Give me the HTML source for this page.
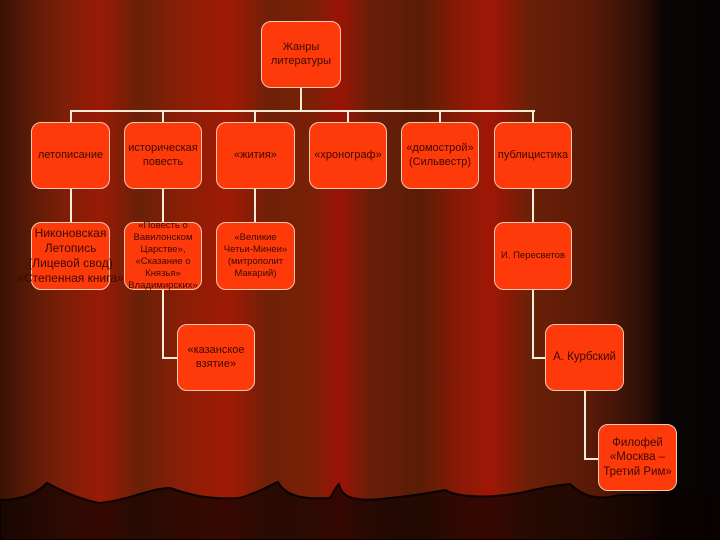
<!DOCTYPE html>
<html><head><meta charset="utf-8"><style>
body{margin:0;width:720px;height:540px;overflow:hidden;background:#000}
#bg{position:absolute;left:0;top:0;width:720px;height:540px;
background:linear-gradient(90deg,#3a1205 0px,#5a1a06 30px,#7a1e08 60px,#9a1a06 100px,#6a2008 140px,#8a1e06 180px,#a01a05 230px,#6e2008 270px,#7a2006 310px,#9a1406 340px,#6a1e08 370px,#5a1c06 420px,#8a1a06 460px,#a01606 490px,#6a2008 530px,#5a1a08 590px,#301008 640px,#0a0404 665px,#050303 720px)}
.box{position:absolute;background:#ff3a0a;border:1.5px solid #f7c8b0;border-radius:10px;box-sizing:border-box;display:flex;align-items:center;justify-content:center;text-align:center;font-family:"Liberation Sans",sans-serif;font-size:11px;color:#3a0a00;line-height:1.25}
.l{position:absolute;background:#f4ecd8}
</style></head><body>
<div id="bg"></div>
<svg style="position:absolute;left:0;top:0" width="720" height="540">
<path d="M0,500 C20,500 35,495 47,483 C60,490 80,500 100,503 C130,500 150,488 170,488 C190,495 210,500 240,498 C260,492 270,485 278,482 C285,495 300,500 330,498 C335,490 337,485 339,484 C342,500 360,502 390,498 C410,496 430,493 445,490 C460,498 490,498 520,493 C540,488 560,485 570,484 C585,498 600,500 620,495 L720,495 L720,540 L0,540 Z" fill="rgba(10,2,0,0.7)" stroke="#0a0202" stroke-width="2"/>
</svg>
<div class="l" style="left:300px;top:88px;width:2px;height:24px"></div>
<div class="l" style="left:70px;top:110px;width:465px;height:2px"></div>
<div class="l" style="left:70px;top:110px;width:2px;height:12px"></div>
<div class="l" style="left:162px;top:110px;width:2px;height:12px"></div>
<div class="l" style="left:254px;top:110px;width:2px;height:12px"></div>
<div class="l" style="left:347px;top:110px;width:2px;height:12px"></div>
<div class="l" style="left:439px;top:110px;width:2px;height:12px"></div>
<div class="l" style="left:532px;top:110px;width:2px;height:12px"></div>
<div class="l" style="left:70px;top:189px;width:2px;height:33px"></div>
<div class="l" style="left:162px;top:189px;width:2px;height:170px"></div>
<div class="l" style="left:162px;top:357px;width:16px;height:2px"></div>
<div class="l" style="left:254px;top:189px;width:2px;height:33px"></div>
<div class="l" style="left:532px;top:189px;width:2px;height:170px"></div>
<div class="l" style="left:532px;top:357px;width:14px;height:2px"></div>
<div class="l" style="left:584px;top:391px;width:2px;height:68px"></div>
<div class="l" style="left:584px;top:458px;width:15px;height:2px"></div>

<div class="box" style="left:261px;top:21px;width:80px;height:67px">Жанры<br>литературы</div>
<div class="box" style="left:31px;top:122px;width:79px;height:67px">летописание</div>
<div class="box" style="left:124px;top:122px;width:78px;height:67px">историческая<br>повесть</div>
<div class="box" style="left:216px;top:122px;width:79px;height:67px">«жития»</div>
<div class="box" style="left:309px;top:122px;width:78px;height:67px">«хронограф»</div>
<div class="box" style="left:401px;top:122px;width:78px;height:67px">«домострой»<br>(Сильвестр)</div>
<div class="box" style="left:494px;top:122px;width:78px;height:67px">публицистика</div>
<div class="box" style="left:31px;top:222px;width:79px;height:68px;font-size:12px;white-space:nowrap">Никоновская<br>Летопись<br>(Лицевой свод)<br>«Степенная книга»</div>
<div class="box" style="left:124px;top:222px;width:78px;height:68px;font-size:9.5px;white-space:nowrap">«Повесть о<br>Вавилонском<br>Царстве»,<br>«Сказание о<br>Князья»<br>Владимирских»</div>
<div class="box" style="left:216px;top:222px;width:79px;height:68px;font-size:9.5px">«Великие<br>Четьи-Минеи»<br>(митрополит<br>Макарий)</div>
<div class="box" style="left:494px;top:222px;width:78px;height:68px;font-size:9.5px">И. Пересветов</div>
<div class="box" style="left:177px;top:324px;width:78px;height:67px">«казанское<br>взятие»</div>
<div class="box" style="left:545px;top:324px;width:79px;height:67px;font-size:11.5px">А. Курбский</div>
<div class="box" style="left:598px;top:424px;width:79px;height:67px;font-size:11.5px">Филофей<br>«Москва –<br>Третий Рим»</div>
</body></html>
